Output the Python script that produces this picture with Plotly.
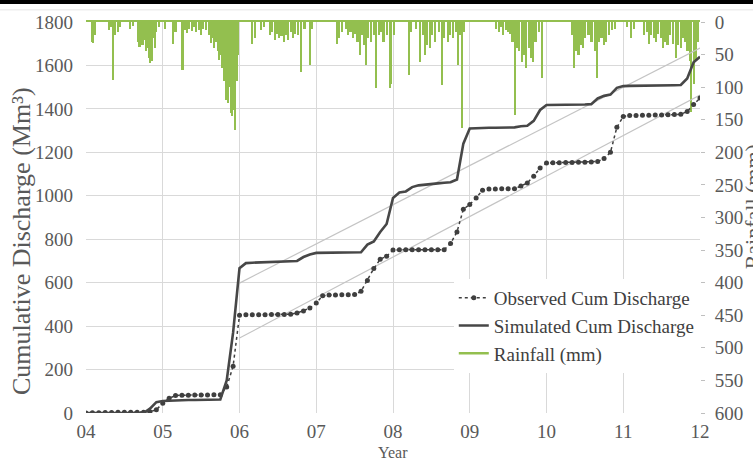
import plotly.graph_objects as go

# ---------------- data ----------------
year_ticks = [4, 5, 6, 7, 8, 9, 10, 11, 12]
year_labels = ["04", "05", "06", "07", "08", "09", "10", "11", "12"]

# monthly values, Jan 2004 .. Jan 2012 (97 points)
simulated = [
    0, 0, 0, 0, 0, 0, 0, 0, 0, 0, 20, 50,
    55, 57, 58, 59, 60, 60, 61, 61, 62, 62, 150, 370,
    667, 690, 692, 693, 694, 695, 695, 696, 697, 700, 718, 730,
    737, 737, 737, 737, 737, 737, 737, 740, 775, 790, 833, 870,
    990, 1015, 1020, 1040, 1048, 1052, 1055, 1057, 1060, 1062, 1075, 1240,
    1310, 1312, 1312, 1313, 1313, 1313, 1313, 1315, 1320, 1322, 1345, 1395,
    1418, 1418, 1418, 1418, 1419, 1419, 1420, 1422, 1448, 1460, 1466, 1497,
    1505, 1506, 1506, 1507, 1507, 1508, 1508, 1509, 1509, 1510, 1540, 1615,
    1640,
]
observed = [
    0, 1, 1, 2, 2, 3, 3, 3, 4, 4, 6, 15,
    45, 68, 80, 82, 82, 83, 83, 83, 84, 84, 120, 215,
    450, 452, 452, 452, 452, 453, 453, 454, 455, 460, 470, 483,
    506, 540, 543, 543, 544, 544, 545, 560, 610, 665, 708, 722,
    750, 752, 752, 752, 752, 752, 752, 752, 752, 780, 833, 938,
    960, 990, 1025, 1031, 1031, 1032, 1032, 1032, 1045, 1059, 1090, 1128,
    1151, 1152, 1152, 1153, 1153, 1154, 1154, 1155, 1158, 1172, 1200, 1315,
    1365, 1370, 1370, 1371, 1371, 1372, 1372, 1373, 1374, 1375, 1388, 1420,
    1450,
]
month_x = [4 + i / 12 for i in range(len(simulated))]

trend_x = [6, 12]
trend_upper = [598, 1680]
trend_lower = [345, 1464]

rain_t = [
    4.08, 4.10, 4.12, 4.30, 4.33, 4.35, 4.38, 4.42, 4.45, 4.58, 4.61, 4.68, 4.70, 4.72,
    4.74, 4.76, 4.78, 4.80, 4.82, 4.84, 4.86, 4.88, 4.90, 4.92, 4.95,
    5.03, 5.14, 5.17, 5.26, 5.29, 5.32, 5.35, 5.38, 5.41, 5.44, 5.47, 5.50, 5.53, 5.57,
    5.61, 5.63, 5.65, 5.67, 5.70, 5.72, 5.74, 5.76, 5.78, 5.80, 5.82, 5.83, 5.85, 5.87,
    5.89, 5.90, 5.92, 5.93, 5.95, 5.97, 5.98,
    6.17, 6.20, 6.28, 6.32, 6.40, 6.43, 6.46, 6.49, 6.52, 6.55, 6.58, 6.61, 6.64, 6.67,
    6.70, 6.73, 6.77, 6.81, 6.85, 6.92, 6.95,
    7.27, 7.30, 7.34, 7.39, 7.42, 7.45, 7.48, 7.51, 7.54, 7.57, 7.60, 7.63, 7.65, 7.68,
    7.72, 7.75, 7.78, 7.82, 7.85, 7.88, 7.92, 7.96, 7.98,
    8.02, 8.21, 8.24, 8.30, 8.36, 8.39, 8.42, 8.45, 8.48, 8.51, 8.55, 8.60, 8.64, 8.67,
    8.72, 8.75, 8.78, 8.82, 8.85, 8.88, 8.90, 8.93,
    9.35, 9.38, 9.41, 9.44, 9.47, 9.50, 9.53, 9.56, 9.59, 9.62, 9.65, 9.68, 9.71, 9.74,
    9.77, 9.80, 9.83, 9.86, 9.90, 9.95,
    10.33, 10.36, 10.39, 10.42, 10.45, 10.48, 10.51, 10.55, 10.59, 10.63, 10.66, 10.69,
    10.72, 10.75, 10.78, 10.82, 10.86, 10.90,
    11.05, 11.10, 11.14, 11.27, 11.31, 11.34, 11.37, 11.40, 11.43, 11.46, 11.49, 11.52,
    11.55, 11.58, 11.61, 11.65, 11.69, 11.72, 11.75, 11.78, 11.81, 11.84, 11.87, 11.89,
    11.92, 11.95, 11.98,
]
rain_mm = [
    30, 32, 20, 13, 8, 89, 20, 15, 8, 10, 6, 30, 38, 25,
    35, 28, 45, 40, 55, 63, 60, 25, 40, 15, 8,
    10, 33, 15, 74, 12, 17, 10, 14, 8, 16, 12, 20, 10, 12,
    20, 32, 25, 40, 30, 45, 58, 50, 70, 90, 75, 120, 125, 100,
    140, 145, 110, 135, 166, 90, 50,
    33, 25, 12, 8, 20, 15, 28, 18, 25, 22, 30, 20, 28, 15,
    25, 18, 20, 77, 10, 66, 10,
    33, 25, 15, 10, 20, 15, 25, 18, 30, 50, 20, 35, 66, 25,
    30, 20, 101, 20, 15, 30, 20, 101, 95,
    20, 81, 15, 10, 61, 20, 50, 35, 40, 20, 30, 15, 97, 25,
    30, 20, 25, 15, 66, 20, 163, 15,
    10, 15, 8, 20, 12, 15, 18, 30, 143, 40, 45, 61, 50, 70,
    40, 55, 61, 30, 15, 86,
    20, 70, 45, 50, 35, 40, 25, 20, 30, 45, 86, 30,
    25, 35, 30, 20, 12, 10,
    8, 25, 10, 20, 15, 33, 20, 25, 30, 18, 25, 40,
    30, 35, 20, 33, 55, 35, 40, 25, 30, 45, 60, 138,
    95, 60, 30,
]

# ---------------- styles ----------------
FONT = "Liberation Serif, Times New Roman, serif"
GRID = "#d9d9d9"
TXT = "#595959"
GREEN = "#93bf4f"
DARK = "#3f3f3f"

fig = go.Figure()

# rainfall bars on primary y (right, reversed)
fig.add_trace(go.Bar(
    x=rain_t, y=rain_mm, width=0.021, marker=dict(color=GREEN, line=dict(width=0)),
    name="Rainfall (mm)", showlegend=False, yaxis="y", xaxis="x",
))

# trend lines
fig.add_trace(go.Scatter(x=trend_x, y=trend_upper, mode="lines", yaxis="y2",
                         line=dict(color="#c4c4c4", width=1.2), showlegend=False, hoverinfo="skip"))
fig.add_trace(go.Scatter(x=trend_x, y=trend_lower, mode="lines", yaxis="y2",
                         line=dict(color="#c4c4c4", width=1.2), showlegend=False, hoverinfo="skip"))

fig.add_trace(go.Scatter(
    x=month_x, y=observed, mode="lines+markers", name="Observed Cum Discharge", yaxis="y2",
    line=dict(color=DARK, width=1.5, dash="dot"), marker=dict(size=5, color=DARK),
))
fig.add_trace(go.Scatter(
    x=month_x, y=simulated, mode="lines", name="Simulated Cum Discharge", yaxis="y2",
    line=dict(color="#474747", width=2.6),
))
# legend entry for rainfall drawn as a line
fig.add_trace(go.Scatter(
    x=[None], y=[None], mode="lines", name="Rainfall (mm)", yaxis="y2",
    line=dict(color=GREEN, width=2.5),
))
# invisible trace on the top axis so its green line is drawn
fig.add_trace(go.Scatter(x=[None], y=[None], xaxis="x2", yaxis="y2", showlegend=False,
                         hoverinfo="skip"))

tickfont = dict(family=FONT, size=19, color=TXT)

fig.update_layout(
    width=753, height=459,
    margin=dict(l=86, r=53, t=22, b=46, autoexpand=False),
    paper_bgcolor="white", plot_bgcolor="white",
    font=dict(family=FONT, size=19, color=TXT),
    bargap=0,
    showlegend=True,
    legend=dict(
        x=0.599, y=0.343, xanchor="left", yanchor="top",
        bgcolor="white", borderwidth=0,
        font=dict(family=FONT, size=19, color="#404040"),
        tracegroupgap=0, itemwidth=30,
    ),
    xaxis=dict(
        range=[4, 12], tickvals=year_ticks, ticktext=year_labels,
        showgrid=True, gridcolor=GRID, gridwidth=1, zeroline=False,
        showline=False, ticks="", ticklabelstandoff=5, tickfont=tickfont,
    ),
    xaxis2=dict(
        overlaying="x", side="top", range=[4, 12], showgrid=False, showticklabels=False,
        showline=True, linecolor=GREEN, linewidth=2, ticks="", zeroline=False,
    ),
    yaxis=dict(
        side="right", range=[600, 0], dtick=50, showgrid=False, zeroline=False,
        ticks="outside", ticklen=4, tickcolor="#bfbfbf", showline=False,
        tickfont=tickfont, ticklabelstandoff=6,
    ),
    yaxis2=dict(
        overlaying="y", side="left", range=[0, 1800], dtick=200,
        showgrid=True, gridcolor=GRID, gridwidth=1, zeroline=False, showline=False,
        ticks="", tickfont=tickfont, ticklabelstandoff=12,
    ),
    shapes=[
        dict(type="line", xref="paper", yref="paper", x0=-0.2, x1=1.2, y0=1.051, y1=1.051,
             line=dict(color="black", width=4)),
        dict(type="line", xref="paper", yref="paper", x0=-0.2, x1=1.2, y0=1.031, y1=1.031,
             line=dict(color="#e6e6e6", width=1)),
    ],
    annotations=[
        dict(text="Year", xref="paper", yref="paper", x=0.5, y=-0.1, xanchor="center",
             yanchor="middle", showarrow=False, font=dict(family=FONT, size=16, color=TXT)),
        dict(text="Cumulative Discharge (Mm³)", xref="paper", yref="paper", x=-0.104, y=0.44,
             xanchor="center", yanchor="middle", textangle=-90, showarrow=False,
             font=dict(family=FONT, size=26, color=TXT)),
        dict(text="Rainfall (mm)", xref="paper", yref="paper", x=1.087, y=0.527,
             xanchor="center", yanchor="middle", textangle=-90, showarrow=False,
             font=dict(family=FONT, size=22, color=TXT)),
    ],
)

fig.write_html(
    "out.html",
    config={"displayModeBar": False},
    post_script="document.body.style.margin='0';document.body.style.overflow='hidden';",
)
